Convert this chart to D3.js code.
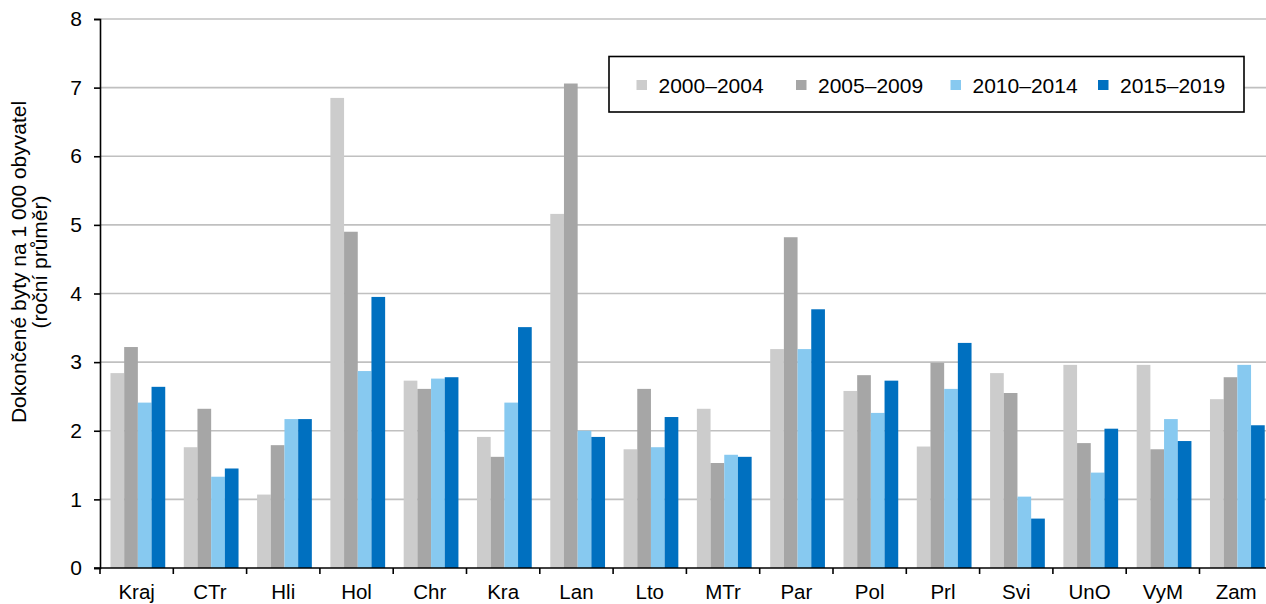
<!DOCTYPE html>
<html>
<head>
<meta charset="utf-8">
<script src="https://cdn.jsdelivr.net/npm/d3@7"></script>
<style>
  html, body { margin: 0; padding: 0; background: #fff; }
  svg { display: block; font-family: "Liberation Sans", Arial, sans-serif; }
</style>
</head>
<body>
<svg id="chart" width="1266" height="604"></svg>
<script>
const categories = ["Kraj","CTr","Hli","Hol","Chr","Kra","Lan","Lto","MTr","Par","Pol","Prl","Svi","UnO","VyM","Zam"];
const seriesNames = ["2000–2004","2005–2009","2010–2014","2015–2019"];
const s2000_2004 = [2.84,1.76,1.07,6.85,2.73,1.91,5.16,1.73,2.32,3.19,2.58,1.77,2.84,2.96,2.96,2.46];
const s2005_2009 = [3.22,2.32,1.79,4.90,2.61,1.62,7.06,2.61,1.53,4.82,2.81,2.99,2.55,1.82,1.73,2.78];
const s2010_2014 = [2.41,1.33,2.17,2.87,2.76,2.41,2.00,1.76,1.65,3.19,2.26,2.61,1.04,1.39,2.17,2.96];
const s2015_2019 = [2.64,1.45,2.17,3.95,2.78,3.51,1.91,2.20,1.62,3.77,2.73,3.28,0.72,2.03,1.85,2.08];
const yTicks = [0,1,2,3,4,5,6,7,8];
const colors = ["#CCCCCC","#A6A6A6","#87C9F0","#0070C0"];
const yTitle1 = "Dokončené byty na 1 000 obyvatel";
const yTitle2 = "(roční průměr)";

const series = [s2000_2004, s2005_2009, s2010_2014, s2015_2019];

(function () {
const svg = d3.select("#chart");
const pLeft = 100, pTop = 19, pBottom = 568;
const step = 73.3;
const pRight = pLeft + step * categories.length;

const x0 = d3.scaleBand().domain(categories).range([pLeft, pRight]).paddingInner(0).paddingOuter(0);
const x1 = d3.scaleBand().domain(d3.range(series.length))
  .range([x0.bandwidth() * 0.143, x0.bandwidth() * 0.89]).padding(0);
const y = d3.scaleLinear().domain([0, 8]).range([pBottom, pTop]);

// gridlines
svg.append("g").selectAll("line").data(yTicks.filter(d => d > 0)).join("line")
  .attr("x1", pLeft).attr("x2", 1266)
  .attr("y1", d => y(d)).attr("y2", d => y(d))
  .attr("stroke", "#C0C0C0").attr("stroke-width", 1.6);

// bars
const groups = svg.append("g").selectAll("g").data(categories).join("g")
  .attr("transform", d => `translate(${x0(d)},0)`);
groups.selectAll("rect").data((d, i) => series.map((s, k) => ({k, v: s[i]}))).join("rect")
  .attr("x", d => x1(d.k)).attr("width", x1.bandwidth())
  .attr("y", d => y(d.v)).attr("height", d => y(0) - y(d.v))
  .attr("fill", d => colors[d.k]);

// y axis
const yAxis = svg.append("g").attr("transform", `translate(${pLeft},0)`)
  .call(d3.axisLeft(y).tickValues(yTicks).tickSize(6).tickPadding(12).tickFormat(d3.format("d")));
yAxis.select(".domain").attr("stroke", "#000").attr("stroke-width", 1.6);
yAxis.selectAll(".tick line").attr("stroke", "#000").attr("stroke-width", 1.6);
yAxis.selectAll("text").attr("font-size", 21).attr("fill", "#000")
  .attr("font-family", "Liberation Sans, Arial, sans-serif");

// x axis
const xAxisG = svg.append("g").attr("transform", `translate(0,${pBottom})`);
xAxisG.append("line").attr("x1", pLeft - 6).attr("x2", 1266).attr("y1", 0).attr("y2", 0)
  .attr("stroke", "#000").attr("stroke-width", 1.6);
xAxisG.selectAll("line.tk").data(categories.concat(["_end"])).join("line").attr("class", "tk")
  .attr("x1", (d, i) => pLeft + i * x0.step()).attr("x2", (d, i) => pLeft + i * x0.step())
  .attr("y1", 0).attr("y2", 6).attr("stroke", "#000").attr("stroke-width", 1.6);
xAxisG.selectAll("text").data(categories).join("text")
  .attr("x", d => x0(d) + x0.bandwidth() / 2).attr("y", 31)
  .attr("text-anchor", "middle").attr("font-size", 20.5).attr("fill", "#000")
  .text(d => d);

// y title
const yt = svg.append("text").attr("transform", `translate(26,262) rotate(-90)`)
  .attr("text-anchor", "middle").attr("font-size", 21).attr("fill", "#000");
yt.append("tspan").attr("x", 0).attr("y", 0).text(yTitle1);
yt.append("tspan").attr("x", 0).attr("y", 21).text(yTitle2);

// legend
const lg = svg.append("g");
lg.append("rect").attr("x", 609).attr("y", 56.5).attr("width", 635).attr("height", 55.5)
  .attr("fill", "#fff").attr("stroke", "#000").attr("stroke-width", 1.6);
const legendX = [636.5, 796, 950.5, 1098];
seriesNames.forEach((n, k) => {
  lg.append("rect").attr("x", legendX[k]).attr("y", 80).attr("width", 10.5).attr("height", 10)
    .attr("fill", colors[k]);
  lg.append("text").attr("x", legendX[k] + 22).attr("y", 93).attr("font-size", 21)
    .attr("fill", "#000").text(n);
});
})();
</script>
</body>
</html>
